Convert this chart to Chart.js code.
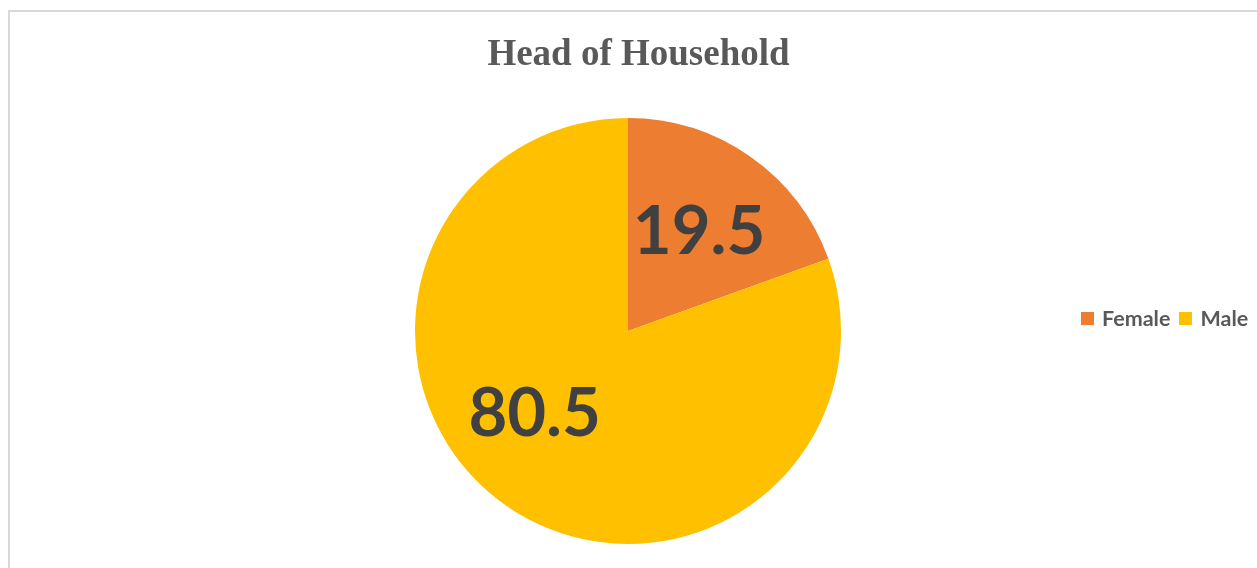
<!DOCTYPE html>
<html>
<head>
<meta charset="utf-8">
<script src="https://cdn.jsdelivr.net/npm/chart.js"></script>
<style>
    html, body { margin: 0; padding: 0; width: 1257px; height: 568px; overflow: hidden; background: #fff; }
    #frame { position: absolute; left: 8px; top: 10px; width: 1300px; height: 600px; border: 2px solid #d9d9d9; box-sizing: border-box; }
    #wrap { position: absolute; left: 0; top: 0; width: 1257px; height: 568px; }
    #title { position: absolute; left: 0; top: 33px; width: 1277px; text-align: center; font: bold 37px "Liberation Serif", "Times New Roman", serif; line-height: 40px; color: #595959; }
    #legend { position: absolute; left: 1081px; top: 308px; display: flex; font: bold 21.5px Lato, sans-serif; line-height: 21px; color: #595959; white-space: nowrap; }
    #legend span.box { display: inline-block; width: 13px; height: 13px; margin: 4px 8px 0 0; }
    #legend span.item { display: flex; margin-right: 9px; }
</style>
</head>
<body>
<div id="frame"></div>
<div id="wrap"><canvas id="myChart" width="1257" height="568"></canvas></div>
<div id="title">Head of Household</div>
<div id="legend"></div>
<script>
// data
const categories = ['Female', 'Male']
const shares = [19.5, 80.5]
const sliceColors = ['#ED7D31', '#FFC000']
// excel nudges the big label a bit away from its mid angle
const labelAngleShift = [0, 14]

//value labels drawn inside the slices
const sliceLabels = {
    id: 'sliceLabels',
    afterDatasetsDraw(chart) {
        const ctx = chart.ctx
        const meta = chart.getDatasetMeta(0)
        ctx.save()
        ctx.font = 'bold 67px Lato, sans-serif'
        ctx.fillStyle = '#404040'
        ctx.textAlign = 'center'
        ctx.textBaseline = 'alphabetic'
        meta.data.forEach((arc, i) => {
            const p = arc.getProps(['x', 'y', 'startAngle', 'endAngle', 'outerRadius'], true)
            const mid = (p.startAngle + p.endAngle) / 2 + labelAngleShift[i] * Math.PI / 180
            const r = p.outerRadius * 0.58
            const x = p.x + Math.cos(mid) * r
            const y = p.y + Math.sin(mid) * r
            const text = String(chart.data.datasets[0].data[i])
            const m = ctx.measureText(text)
            const h = m.actualBoundingBoxAscent - m.actualBoundingBoxDescent
            ctx.fillText(text, x, y + h / 2)
        })
        ctx.restore()
    }
}

function buildLegend() {
    const legend = document.querySelector('#legend')
    categories.forEach((name, i) => {
        const item = document.createElement('span')
        item.className = 'item'
        const box = document.createElement('span')
        box.className = 'box'
        box.style.background = sliceColors[i]
        item.appendChild(box)
        item.appendChild(document.createTextNode(name))
        legend.appendChild(item)
    })
}

function renderChart() {
    const grafica = document.querySelector('#myChart')
    const config = {
        type: 'pie',
        data: {
            labels: categories,
            datasets: [{
                data: shares,
                backgroundColor: sliceColors,
                borderWidth: 0,
                hoverOffset: 0
            }]
        },
        options: {
            responsive: false,
            animation: false,
            layout: { padding: { top: 118, bottom: 24, left: 0, right: 1 } },
            plugins: {
                legend: { display: false },
                title: { display: false },
                tooltip: { enabled: false }
            }
        },
        plugins: [sliceLabels]
    }
    new Chart(grafica, config)
}

document.addEventListener('DOMContentLoaded', () => {
    buildLegend()
    renderChart()
})
</script>
</body>
</html>
